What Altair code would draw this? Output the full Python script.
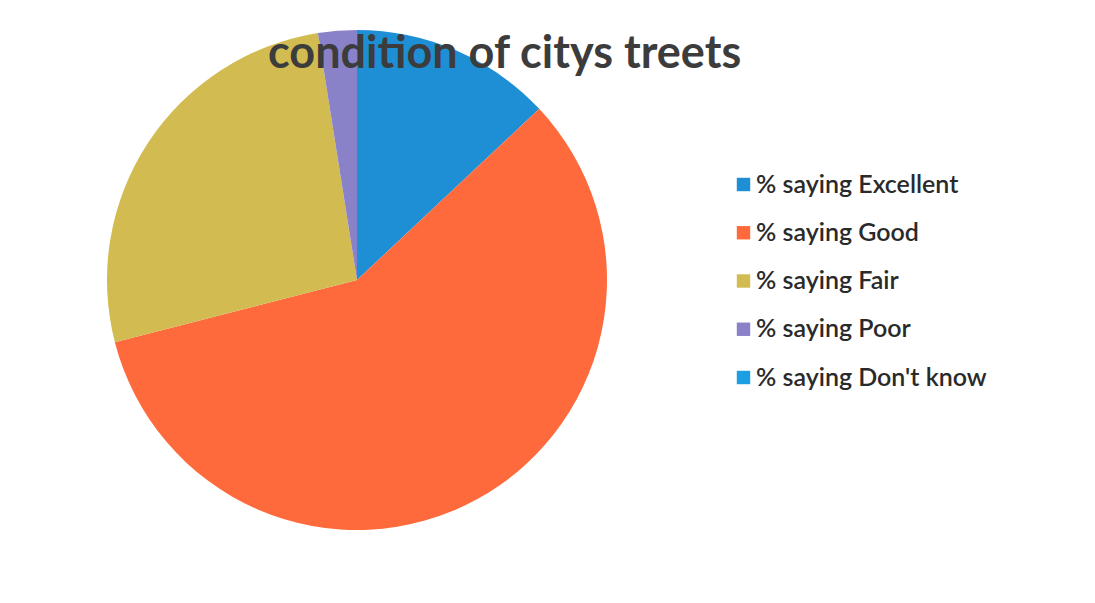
import altair as alt
import pandas as pd

categories = ["% saying Excellent", "% saying Good", "% saying Fair", "% saying Poor", "% saying Don't know"]
values = [13.0, 58.0, 26.5, 2.5, 0.0]
colors = ["#1F8FD5", "#FF6A3C", "#D2BC52", "#8A82C9", "#1AA0E2"]

df = pd.DataFrame({"category": categories, "value": values, "idx": list(range(len(categories)))})

chart = alt.Chart(df).mark_arc(radius=250, strokeWidth=0).encode(
    theta=alt.Theta("value:Q", stack=True),
    color=alt.Color(
        "category:N",
        scale=alt.Scale(domain=categories, range=colors),
        sort=categories,
        legend=alt.Legend(
            title=None,
            orient="none",
            legendX=723,
            legendY=164,
            symbolType="square",
            symbolSize=180,
            symbolStrokeWidth=0,
            labelFontSize=25,
            labelFont="Lato",
            labelColor="#2a2a2a",
            labelFontWeight=600,
            rowPadding=22.25,
            labelOffset=0,
            padding=0,
            labelLimit=400,
        ),
    ),
    order=alt.Order("idx:Q"),
).properties(
    width=698,
    height=544,
    padding={"left": 0, "top": 0, "right": 381, "bottom": 43},
    autosize=alt.AutoSizeParams(type="none"),
    title=alt.TitleParams(
        text="condition of citys treets",
        orient="top",
        anchor="start",
        fontSize=45,
        font="Lato",
        fontWeight="bold",
        color="#3c3c3c",
        baseline="alphabetic",
        offset=0,
        dx=260,
        dy=105,
    ),
).configure_view(stroke=None)

chart.save("out.html", embed_options={"renderer": "svg", "actions": False})
